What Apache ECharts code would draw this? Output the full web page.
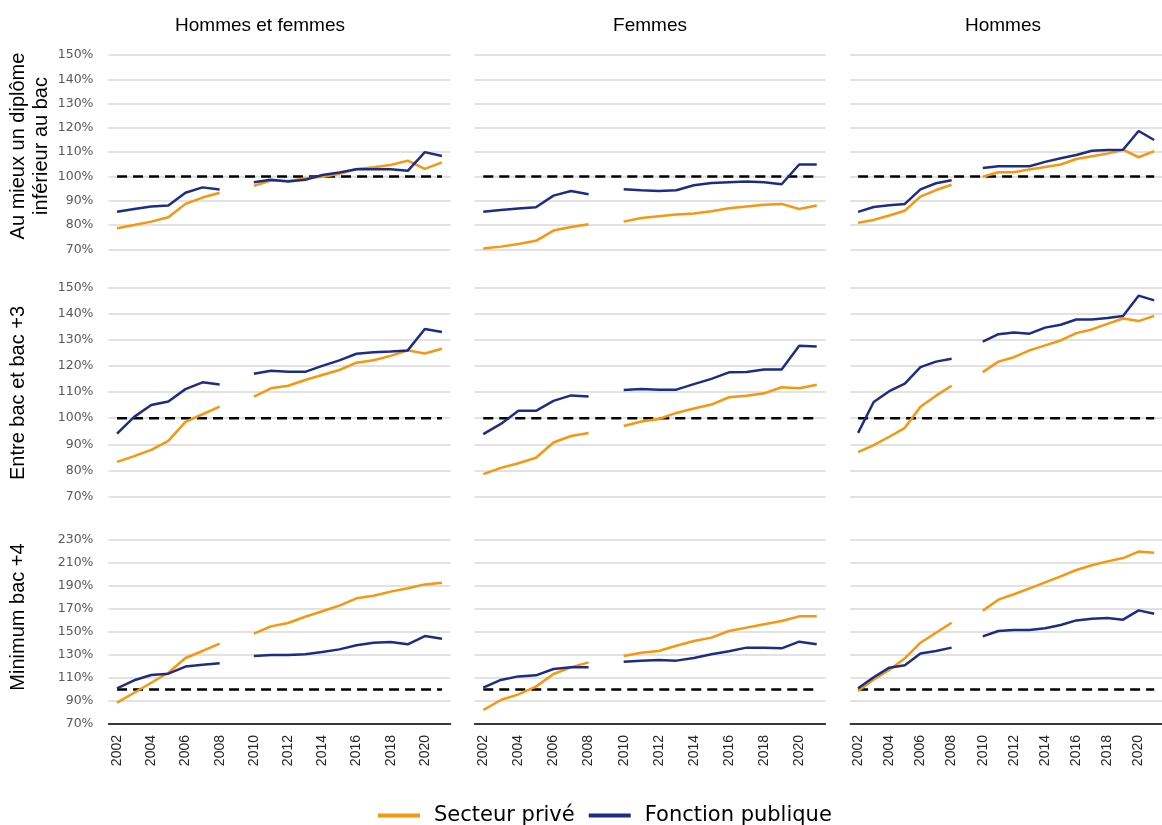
<!DOCTYPE html>
<html><head><meta charset="utf-8">
<script src="https://cdn.jsdelivr.net/npm/echarts@6/dist/echarts.min.js"></script>
<style>html,body{margin:0;padding:0;background:#fff}#c{width:1162px;height:825px}</style>
</head><body><div id="c"></div><script>
// ---------- DATA ----------
const years = ['2002','2003','2004','2005','2006','2007','2008','2009','2010','2011','2012','2013','2014','2015','2016','2017','2018','2019','2020','2021'];
const columnTitles = ['Hommes et femmes', 'Femmes', 'Hommes'];
const rowTitles = [['Au mieux un diplôme', 'inférieur au bac'], ['Entre bac et bac +3'], ['Minimum bac +4']];
const seriesNames = ['Secteur privé', 'Fonction publique'];
const yTicksTop = [70, 80, 90, 100, 110, 120, 130, 140, 150];
const yTicksBottom = [70, 90, 110, 130, 150, 170, 190, 210, 230];
const refLine = [100,100,100,100,100,100,100,100,100,100,100,100,100,100,100,100,100,100,100,100];

// Row 1 : Au mieux un diplôme inférieur au bac
const priveInfBacEns = [78.7,80.0,81.4,83.2,88.7,91.3,93.3,null,96.1,98.3,98.1,99.2,99.9,101.0,103.1,103.8,104.7,106.5,103.1,105.8];
const publicInfBacEns = [85.5,86.6,87.6,88.0,93.3,95.5,94.6,null,97.6,98.6,97.9,98.6,100.6,101.6,103.0,103.0,103.0,102.3,110.0,108.4];
const priveInfBacF = [70.3,71.1,72.2,73.5,77.7,79.2,80.3,null,81.4,82.9,83.6,84.3,84.7,85.7,86.9,87.6,88.3,88.7,86.6,88.0];
const publicInfBacF = [85.5,86.2,86.8,87.3,92.1,94.0,92.7,null,94.7,94.3,94.0,94.3,96.4,97.3,97.6,97.9,97.6,96.8,104.9,104.9];
const priveInfBacH = [80.9,82.1,83.9,85.9,91.7,94.4,96.6,null,99.9,101.7,101.7,102.9,103.9,104.9,107.2,108.3,109.4,111.0,107.9,110.4];
const publicInfBacH = [85.4,87.4,88.1,88.7,94.7,97.2,98.4,null,103.5,104.2,104.2,104.2,106.0,107.5,108.8,110.6,110.9,111.0,118.7,115.0];

// Row 2 : Entre bac et bac +3
const priveBac3Ens = [83.3,85.5,87.9,91.3,98.6,101.5,104.4,null,108.2,111.4,112.4,114.6,116.5,118.4,121.2,122.1,123.8,125.9,124.7,126.5];
const publicBac3Ens = [94.1,100.5,105.0,106.4,111.1,113.7,112.9,null,117.0,118.1,117.7,117.7,120.0,122.1,124.6,125.2,125.5,125.9,134.1,132.9];
const priveBac3F = [78.6,81.0,82.8,84.9,90.7,93.2,94.3,null,97.0,98.7,99.7,102.0,103.7,105.2,108.0,108.6,109.5,111.8,111.4,112.8];
const publicBac3F = [93.9,97.8,102.8,102.8,106.6,108.7,108.3,null,110.8,111.1,110.9,110.9,113.0,115.0,117.5,117.6,118.6,118.6,127.7,127.4];
const priveBac3H = [87.0,89.7,92.9,96.3,104.4,108.6,112.4,null,117.6,121.6,123.3,125.9,127.8,129.7,132.5,133.9,136.0,138.1,137.1,139.1];
const publicBac3H = [94.4,106.2,110.3,113.2,119.5,121.6,122.7,null,129.2,132.1,132.7,132.3,134.6,135.7,137.7,137.7,138.3,139.0,146.8,145.0];

// Row 3 : Minimum bac +4
const priveBac4Ens = [88.6,97.2,105.9,114.6,127.4,133.5,139.9,null,148.6,154.9,157.8,163.3,168.0,172.9,179.3,181.6,185.1,188.0,191.4,192.9];
const publicBac4Ens = [101.0,108.0,112.6,113.8,119.9,121.6,122.8,null,129.1,130.0,130.0,130.6,132.6,134.9,138.4,140.7,141.3,139.3,146.5,144.2];
const priveBac4F = [82.2,90.9,95.8,102.5,113.5,119.3,123.6,null,129.1,132.0,133.5,138.1,142.2,145.1,150.9,153.8,156.7,159.6,163.6,163.6];
const publicBac4F = [101.6,108.3,111.4,112.3,117.8,119.3,119.3,null,124.2,125.1,125.7,125.1,127.4,130.6,133.2,136.4,136.4,135.8,141.6,139.3];
const priveBac4H = [98.7,108.8,117.0,127.1,140.7,149.4,158.1,null,168.6,178.1,182.8,188.0,193.2,198.4,203.9,208.0,211.4,214.3,219.9,219.0];
const publicBac4H = [101.0,110.6,119.0,121.0,131.4,133.5,136.4,null,146.2,150.9,151.7,151.7,153.2,156.1,160.1,161.6,162.2,160.7,168.8,165.9];

const panels = [
  [[priveInfBacEns, publicInfBacEns], [priveInfBacF, publicInfBacF], [priveInfBacH, publicInfBacH]],
  [[priveBac3Ens, publicBac3Ens], [priveBac3F, publicBac3F], [priveBac3H, publicBac3H]],
  [[priveBac4Ens, publicBac4Ens], [priveBac4F, publicBac4F], [priveBac4H, publicBac4H]]
];
const rowTicks = [yTicksTop, yTicksTop, yTicksBottom];

// ---------- LAYOUT ----------
const colLayout = [{left: 108.5, width: 342}, {left: 474.5, width: 351}, {left: 850.3, width: 321.6}];
const rowLayout = [{top: 55, height: 194.3}, {top: 287.3, height: 209.4}, {top: 540, height: 184}];
const ORANGE = '#F7960F', BLUE = '#1D2D85';

const grid = [], xAxis = [], yAxis = [], series = [];
let idx = 0;
for (let r = 0; r < 3; r++) {
  for (let c = 0; c < 3; c++) {
    grid.push({left: colLayout[c].left, width: colLayout[c].width, top: rowLayout[r].top, height: rowLayout[r].height, containLabel: false});
    const bottomRow = r === 2;
    xAxis.push({
      type: 'category', gridIndex: idx, data: years, boundaryGap: true,
      axisLine: {show: bottomRow, onZero: false, lineStyle: {color: '#000', width: 1.5}},
      axisTick: {show: false},
      axisLabel: {show: bottomRow, rotate: 90, interval: 1, margin: 11, fontFamily: 'Liberation Sans', fontSize: 14, color: '#262626'},
      splitLine: {show: false}
    });
    const t = rowTicks[r];
    yAxis.push({
      type: 'value', gridIndex: idx, min: t[0], max: t[t.length - 1], interval: t[1] - t[0],
      axisLine: {show: false}, axisTick: {show: false},
      axisLabel: {show: c === 0, formatter: '{value}%', margin: 15, fontFamily: 'DejaVu Sans', fontSize: 12.5, color: '#595959'},
      splitLine: {show: true, lineStyle: {color: '#D9D9D9', width: 1.5}}
    });
    series.push({
      type: 'line', xAxisIndex: idx, yAxisIndex: idx, data: refLine, symbol: 'none', silent: true,
      lineStyle: {color: '#000', width: 2.5, type: [10, 6]}, itemStyle: {color: '#000'}, z: 2
    });
    const cols = [ORANGE, BLUE];
    for (let s = 0; s < 2; s++) {
      series.push({
        name: seriesNames[s], type: 'line', xAxisIndex: idx, yAxisIndex: idx,
        data: panels[r][c][s], symbol: 'none', showSymbol: false, connectNulls: false,
        lineStyle: {color: cols[s], width: 2.5}, itemStyle: {color: cols[s]}, z: 3 + s
      });
    }
    idx++;
  }
}

const graphic = [];
const titleX = [260, 650, 1003];
columnTitles.forEach((t, i) => graphic.push({
  type: 'text', x: titleX[i], y: 26,
  style: {text: t, align: 'center', verticalAlign: 'middle', font: '19px "Liberation Sans"', fill: '#000'}
}));
const rowCenters = [146, 393, 617];
rowTitles.forEach((lines, r) => {
  lines.forEach((line, k) => graphic.push({
    type: 'text', x: 18 + k * 23, y: rowCenters[r], rotation: Math.PI / 2,
    style: {text: line, align: 'center', verticalAlign: 'middle', font: '20px "Liberation Sans"', fill: '#000'}
  }));
});

const chart = echarts.init(document.getElementById('c'), null, {renderer: 'canvas'});
chart.setOption({
  animation: false,
  backgroundColor: '#fff',
  grid, xAxis, yAxis, series, graphic,
  legend: {
    data: seriesNames, left: 373, top: 800, icon: 'rect', itemWidth: 42, itemHeight: 4, itemGap: 14,
    textStyle: {fontFamily: 'DejaVu Sans', fontSize: 21, color: '#000', padding: [0, 0, 0, 9]}
  }
});
</script></body></html>
